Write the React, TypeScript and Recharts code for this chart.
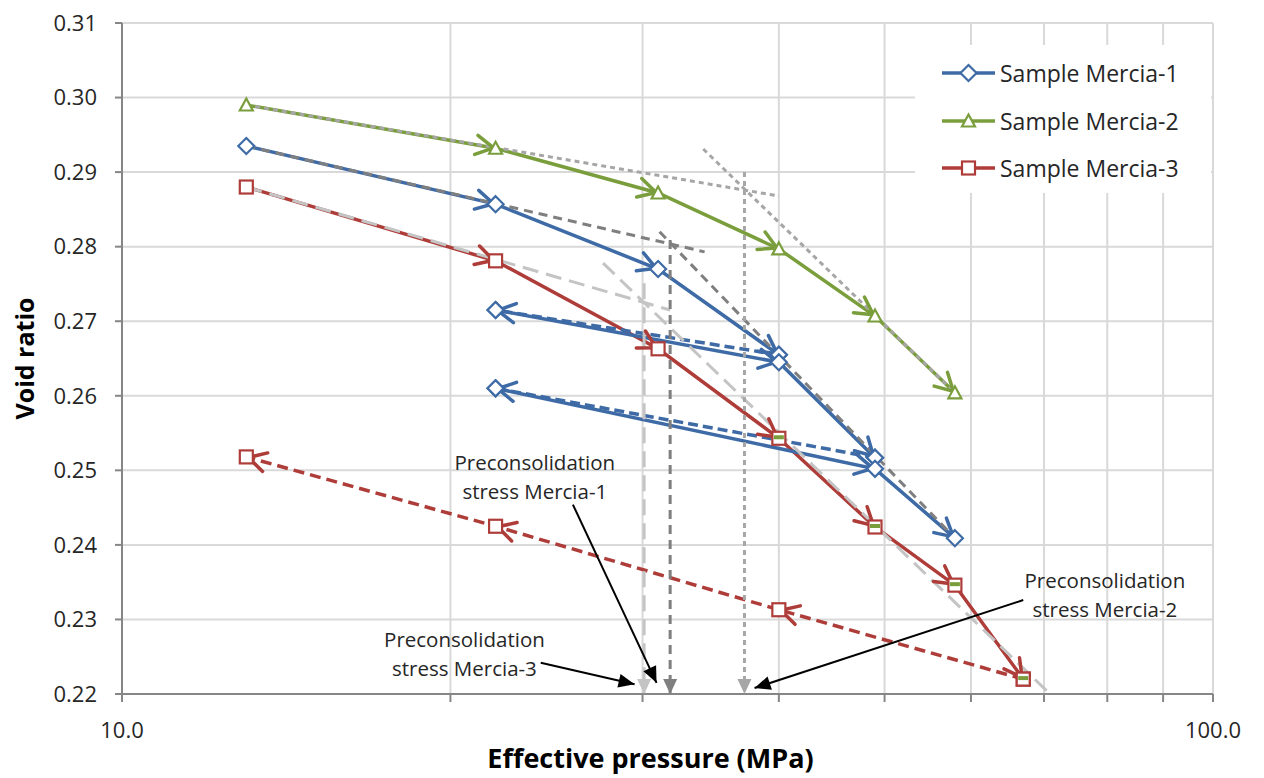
import React from 'react'
import {
  ComposedChart, Line, XAxis, YAxis, CartesianGrid, Legend, ReferenceDot
} from 'recharts'

const FONT = '"Open Sans", "Noto Sans", sans-serif'
const BLUE = '#3E6BA6'
const GREEN = '#7A9E3C'
const RED = '#AE3D3A'
const GREY_DARK = '#7F7F7F'
const GREY_MID = '#A6A6A6'
const GREY_LIGHT = '#C4C4C4'
const TEXT = '#262626'

const xTicks = [10, 20, 30, 40, 50, 60, 70, 80, 90, 100]
const xLabelled = [10, 100]
const yTicks = [0.22, 0.23, 0.24, 0.25, 0.26, 0.27, 0.28, 0.29, 0.30, 0.31]

// [effective pressure (MPa), void ratio]
// Sample Mercia-1
const m1Loading = [[13, 0.2935], [22, 0.2857], [31, 0.2770], [40, 0.2655]]
const m1Unload1 = [[40, 0.2655], [22, 0.2715]]
const m1Reload1 = [[22, 0.2715], [40, 0.2645], [49, 0.2517]]
const m1Unload2 = [[49, 0.2517], [22, 0.2610]]
const m1Reload2 = [[22, 0.2610], [49, 0.2502], [58, 0.2409]]

// Sample Mercia-2
const m2Loading = [[13, 0.2990], [22, 0.2932], [31, 0.2872], [40, 0.2797], [49, 0.2707], [58, 0.2604]]

// Sample Mercia-3
const m3Loading = [[13, 0.2880], [22, 0.2781], [31, 0.2663], [40, 0.2543], [49, 0.2424], [58, 0.2346], [67, 0.2220]]
const m3Unload = [[67, 0.2220], [40, 0.2313], [22, 0.2425], [13, 0.2518]]
const m3Flags = [[40, 0.2543], [49, 0.2424], [58, 0.2346], [67, 0.2220]]

// Preconsolidation construction lines
const m1Upper = [[13, 0.2935], [34.2, 0.2793]]
const m1Steep = [[31.1, 0.2820], [58, 0.2409]]
const m1Sigma = [[31.8, 0.2809], [31.8, 0.22]]
const m2Upper = [[13, 0.2990], [40, 0.2868]]
const m2Steep = [[34.1, 0.2931], [58, 0.2604]]
const m2Sigma = [[37.2, 0.2900], [37.2, 0.22]]
const m3Upper = [[13, 0.2880], [31.8, 0.2715]]
const m3Steep = [[27.6, 0.2778], [70.9, 0.22]]
const m3Sigma = [[30.1, 0.2751], [30.1, 0.22]]

// Annotation callouts
const note1Arrow = [[25.9, 0.2454], [30.9, 0.2215]]
const note2Arrow = [[67.0, 0.2326], [38.0, 0.2208]]
const note3Arrow = [[24.2, 0.2242], [29.5, 0.2213]]
const note1Text = ['Preconsolidation', 'stress Mercia-1']
const note2Text = ['Preconsolidation', 'stress Mercia-2']
const note3Text = ['Preconsolidation', 'stress Mercia-3']
const note1At = [23.9, 0.2500]
const note2At = [79.6, 0.2342]
const note3At = [20.6, 0.2263]

const legendItems = [
  { name: 'Sample Mercia-1', color: BLUE, shape: 'diamond' },
  { name: 'Sample Mercia-2', color: GREEN, shape: 'triangle' },
  { name: 'Sample Mercia-3', color: RED, shape: 'square' },
]

const pts = (arr: number[][]) => arr.map(([p, e]) => ({ p, e }))

function Marker({ shape, x, y, color }: { shape: string; x: number; y: number; color: string }) {
  if (shape === 'diamond') {
    return <path d={`M${x},${y - 8}L${x + 8},${y}L${x},${y + 8}L${x - 8},${y}Z`} fill="#fff" stroke={color} strokeWidth={2.2} />
  }
  if (shape === 'triangle') {
    return <path d={`M${x},${y - 6.5}L${x + 6.5},${y + 5.5}L${x - 6.5},${y + 5.5}Z`} fill="#fff" stroke={color} strokeWidth={2.2} />
  }
  return <rect x={x - 6.5} y={y - 6.5} width={13} height={13} fill="#fff" stroke={color} strokeWidth={2.2} />
}

function openHead(x: number, y: number, px: number, py: number, color: string) {
  const a = Math.atan2(y - py, x - px)
  const tx = x - Math.cos(a) * 2
  const ty = y - Math.sin(a) * 2
  const len = 20
  const h = 0.5
  const x1 = tx - len * Math.cos(a - h)
  const y1 = ty - len * Math.sin(a - h)
  const x2 = tx - len * Math.cos(a + h)
  const y2 = ty - len * Math.sin(a + h)
  return (
    <path d={`M${x1},${y1}L${tx},${ty}L${x2},${y2}`} fill="none" stroke={color}
      strokeWidth={3.5} strokeLinecap="round" strokeLinejoin="round" />
  )
}

function solidHead(x: number, y: number, px: number, py: number, color: string, len: number, half: number) {
  const a = Math.atan2(y - py, x - px)
  const bx = x - len * Math.cos(a)
  const by = y - len * Math.sin(a)
  const nx = -Math.sin(a) * half
  const ny = Math.cos(a) * half
  return <path d={`M${x},${y}L${bx + nx},${by + ny}L${bx - nx},${by - ny}Z`} fill={color} stroke="none" />
}

// marker at every point, open arrowhead at every point after the first
const seriesDot = (color: string, shape: string) => (props: any) => {
  const { cx, cy, index, points } = props
  const prev = index > 0 && points ? points[index - 1] : null
  return (
    <g key={`m-${index}`}>
      {prev && openHead(cx, cy, prev.x, prev.y, color)}
      <Marker shape={shape} x={cx} y={cy} color={color} />
    </g>
  )
}

// filled arrowhead on the last point only
const tipDot = (color: string, len: number, half: number) => (props: any) => {
  const { cx, cy, index, points } = props
  if (!points || index !== points.length - 1) return <g key={`t-${index}`} />
  const prev = points[index - 1]
  return <g key={`t-${index}`}>{solidHead(cx, cy, prev.x, prev.y, color, len, half)}</g>
}

const flagDot = (props: any) => (
  <rect key={`f-${props.index}`} x={props.cx - 5} y={props.cy - 3} width={10} height={4} fill={GREEN} />
)

const XTick = (props: any) => {
  const { x, y, payload } = props
  if (!xLabelled.includes(payload.value)) return <g />
  return (
    <text x={x} y={y + 34} textAnchor="middle" fontSize={22} fill={TEXT} fontFamily={FONT}>
      {payload.value.toFixed(1)}
    </text>
  )
}

const noteLabel = (lines: string[]) => (props: any) => {
  const vb = props.viewBox || {}
  const x = (vb.x || 0) + (vb.width || 0) / 2
  const y = (vb.y || 0) + (vb.height || 0) / 2
  return (
    <text x={x} y={y} textAnchor="middle" fontSize={20.5} fill={TEXT} fontFamily={FONT}>
      <tspan x={x} dy={0}>{lines[0]}</tspan>
      <tspan x={x} dy={29}>{lines[1]}</tspan>
    </text>
  )
}

function LegendBox() {
  return (
    <div style={{ background: '#fff', width: 296, height: 148, position: 'relative', fontFamily: FONT, fontSize: 23, color: TEXT }}>
      {legendItems.map((it, i) => (
        <div key={it.name} style={{ position: 'absolute', left: 0, top: 6 + i * 47.5, height: 44, display: 'flex', alignItems: 'center', whiteSpace: 'nowrap' }}>
          <svg width={85} height={44}>
            <line x1={27} y1={22} x2={80} y2={22} stroke={it.color} strokeWidth={3.5} />
            <Marker shape={it.shape} x={53.5} y={22} color={it.color} />
          </svg>
          <span>{it.name}</span>
        </div>
      ))}
    </div>
  )
}

type Seg = { data: number[][]; color: string; dash?: string; width?: number; dot: any }

const seriesSegs: Seg[] = [
  { data: m2Loading, color: GREEN, dot: seriesDot(GREEN, 'triangle') },
  { data: m3Loading, color: RED, dot: seriesDot(RED, 'square') },
  { data: m3Unload, color: RED, dash: '11 6', dot: seriesDot(RED, 'square') },
  { data: m1Loading, color: BLUE, dot: seriesDot(BLUE, 'diamond') },
  { data: m1Unload1, color: BLUE, dash: '10 5', dot: seriesDot(BLUE, 'diamond') },
  { data: m1Reload1, color: BLUE, dot: seriesDot(BLUE, 'diamond') },
  { data: m1Unload2, color: BLUE, dash: '10 5', dot: seriesDot(BLUE, 'diamond') },
  { data: m1Reload2, color: BLUE, dot: seriesDot(BLUE, 'diamond') },
]

const guideSegs: Seg[] = [
  { data: m3Upper, color: GREY_LIGHT, dash: '16 8', width: 3, dot: false },
  { data: m3Steep, color: GREY_LIGHT, dash: '16 8', width: 3, dot: false },
  { data: m3Sigma, color: GREY_LIGHT, dash: '16 8', width: 3, dot: tipDot(GREY_LIGHT, 15, 7) },
  { data: m1Upper, color: GREY_DARK, dash: '9 6', width: 3, dot: false },
  { data: m1Steep, color: GREY_DARK, dash: '9 6', width: 3, dot: false },
  { data: m1Sigma, color: GREY_DARK, dash: '9 6', width: 3, dot: tipDot(GREY_DARK, 15, 7) },
  { data: m2Upper, color: GREY_MID, dash: '5 4', width: 3, dot: false },
  { data: m2Steep, color: GREY_MID, dash: '5 4', width: 3, dot: false },
  { data: m2Sigma, color: GREY_MID, dash: '5 4', width: 3, dot: tipDot(GREY_MID, 15, 7) },
  { data: note1Arrow, color: '#000', width: 2, dot: tipDot('#000', 16, 7) },
  { data: note2Arrow, color: '#000', width: 2, dot: tipDot('#000', 16, 7) },
  { data: note3Arrow, color: '#000', width: 2, dot: tipDot('#000', 16, 7) },
]

export default function App() {
  return (
    <div style={{ position: 'absolute', left: 0, top: 0, width: 1264, height: 778, background: '#fff', fontFamily: FONT }}>
      <ComposedChart width={1264} height={778} margin={{ top: 23, right: 51, bottom: 0, left: 0 }}>
        <CartesianGrid stroke="#D9D9D9" strokeWidth={2} />
        <XAxis
          type="number" dataKey="p" scale="log" domain={[10, 100]} ticks={xTicks} interval={0}
          allowDataOverflow height={84} tick={XTick} tickSize={8}
          axisLine={{ stroke: '#868686', strokeWidth: 2 }} tickLine={{ stroke: '#868686', strokeWidth: 2 }}
          label={(props: any) => {
            const vb = props.viewBox
            return (
              <text x={vb.x + vb.width / 2 - 17} y={vb.y + 74} textAnchor="middle" fontSize={27} fontWeight="bold" fill="#000" fontFamily={FONT}>
                Effective pressure (MPa)
              </text>
            )
          }}
        />
        <YAxis
          type="number" dataKey="e" domain={[0.22, 0.31]} ticks={yTicks} interval={0} allowDataOverflow
          width={122} tickSize={7} tickMargin={18} tickFormatter={(v: number) => v.toFixed(2)}
          tick={{ fontSize: 22, fill: TEXT, fontFamily: FONT }}
          axisLine={{ stroke: '#868686', strokeWidth: 2 }} tickLine={{ stroke: '#868686', strokeWidth: 2 }}
          label={(props: any) => {
            const vb = props.viewBox
            const cy = vb.y + vb.height / 2
            return (
              <text x={24} y={cy} transform={`rotate(-90, 24, ${cy})`} textAnchor="middle" dominantBaseline="central"
                fontSize={25} fontWeight="bold" fill="#000" fontFamily={FONT}>
                Void ratio
              </text>
            )
          }}
        />
        {seriesSegs.map((s, i) => (
          <Line key={`s${i}`} data={pts(s.data)} dataKey="e" stroke={s.color} strokeWidth={3.5}
            strokeDasharray={s.dash} dot={s.dot} activeDot={false} legendType="none" isAnimationActive={false} />
        ))}
        <Line data={pts(m3Flags)} dataKey="e" stroke="none" dot={flagDot} activeDot={false} legendType="none" isAnimationActive={false} />
        {guideSegs.map((s, i) => (
          <Line key={`g${i}`} data={pts(s.data)} dataKey="e" stroke={s.color} strokeWidth={s.width}
            strokeDasharray={s.dash} dot={s.dot} activeDot={false} legendType="none" isAnimationActive={false} />
        ))}
        <ReferenceDot x={note1At[0]} y={note1At[1]} r={0} fill="none" stroke="none" label={noteLabel(note1Text)} />
        <ReferenceDot x={note2At[0]} y={note2At[1]} r={0} fill="none" stroke="none" label={noteLabel(note2Text)} />
        <ReferenceDot x={note3At[0]} y={note3At[1]} r={0} fill="none" stroke="none" label={noteLabel(note3Text)} />
        <Legend
          layout="vertical" align="center" verticalAlign="middle"
          wrapperStyle={{ left: 915, top: 45, width: 296, height: 148 }}
          content={() => <LegendBox />}
        />
      </ComposedChart>
    </div>
  )
}
